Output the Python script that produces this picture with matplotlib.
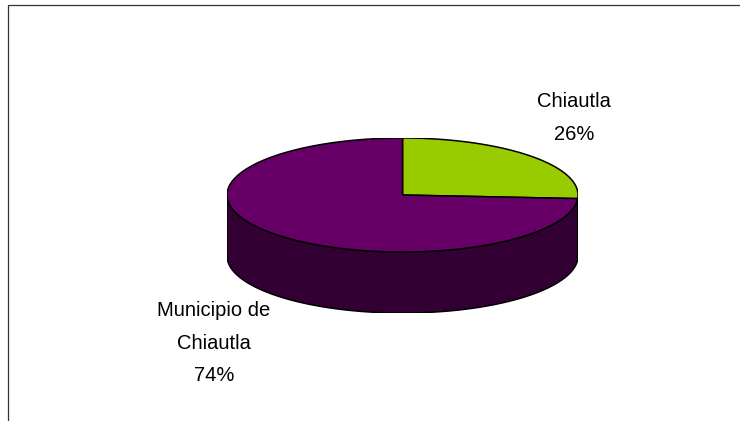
import numpy as np
import matplotlib.pyplot as plt
from matplotlib.patches import Rectangle

# data
labels = ["Chiautla", "Municipio de\nChiautla"]
values = [26, 74]
top_colors = ["#99CC00", "#660066"]
side_colors = ["#4D6600", "#330033"]

DEPTH = 1.07  # side height, in units of the ellipse's vertical radius

plt.rcParams['font.family'] = ['Liberation Sans', 'DejaVu Sans']

fig = plt.figure(figsize=(7.4, 4.21), dpi=100)
ax = fig.add_axes([0.3068, 0.2565, 0.4743, 0.4157])
ax.set_xlim(-1, 1)
ax.set_ylim(-1 - DEPTH, 1)
ax.axis('off')

fracs = np.array(values, dtype=float) / sum(values)
# start at 12 o'clock, go clockwise
bounds = 90 - 360 * np.concatenate([[0], np.cumsum(fracs)])

# sides first (only the front half, angles 180..360 is visible)
for i in range(len(values)):
    a0, a1 = bounds[i + 1], bounds[i]  # a0 < a1
    for shift in (-360, 0, 360):
        lo = max(a0 + shift, 180)
        hi = min(a1 + shift, 360)
        if hi <= lo:
            continue
        t = np.radians(np.linspace(lo, hi, 200))
        xs = np.concatenate([np.cos(t), np.cos(t[::-1])])
        ys = np.concatenate([np.sin(t), np.sin(t[::-1]) - DEPTH])
        ax.fill(xs, ys, facecolor=side_colors[i], edgecolor='black',
                linewidth=1.1, joinstyle='round')

# top faces
for i in range(len(values)):
    a0, a1 = bounds[i + 1], bounds[i]
    t = np.radians(np.linspace(a0, a1, 300))
    xs = np.concatenate([[0], np.cos(t), [0]])
    ys = np.concatenate([[0], np.sin(t), [0]])
    ax.fill(xs, ys, facecolor=top_colors[i], edgecolor='black',
            linewidth=1.1, joinstyle='round')

# labels
label_pos = [(0.7757, 0.7197), (0.289, 0.185)]
for lab, v, (lx, ly) in zip(labels, values, label_pos):
    fig.text(lx, ly, f"{lab}\n{v}%", ha='center', va='center',
             fontsize=14.5, linespacing=1.92, color='black')

# chart area border (runs off the right and bottom edges)
fig.add_artist(Rectangle((7.5 / 740, -0.1), 1.0, 1.1 - 5.5 / 421,
                         transform=fig.transFigure, fill=False,
                         edgecolor='#333333', linewidth=0.9))

fig.savefig("out.png", dpi=100)
